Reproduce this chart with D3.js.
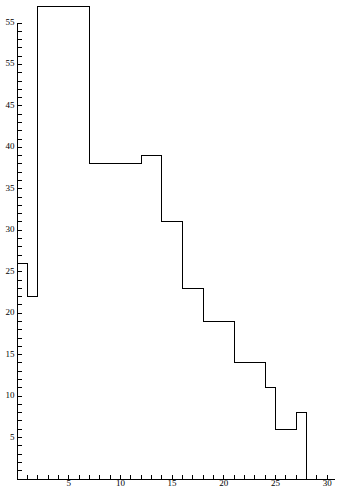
<!DOCTYPE html>
<html>
<head>
<meta charset="utf-8">
<script src="https://cdn.jsdelivr.net/npm/d3@7"></script>
<style>
  html, body { margin: 0; padding: 0; background: #fff; }
  svg { display: block; }
  .tick text { font-family: "Liberation Serif", "DejaVu Serif", serif; font-size: 9px; fill: #000; }
</style>
</head>
<body>
<svg id="chart" width="337" height="491"></svg>
<script>
// Data
const binEdges = [0, 1, 2, 7, 12, 14, 16, 18, 21, 24, 25, 27, 28];
const counts   = [26, 22, 57, 38, 39, 31, 23, 19, 14, 11, 6, 8];
const xTickValues = [5, 10, 15, 20, 25, 30];
const xTickLabels = ["5", "10", "15", "20", "25", "30"];
const yTickValues = [5, 10, 15, 20, 25, 30, 35, 40, 45, 50, 55];
const yTickLabels = ["5", "10", "15", "20", "25", "30", "35", "40", "45", "55", "55"];

const svg = d3.select("#chart");
const x = d3.scaleLinear().domain([0, 30.8]).range([16.5, 334.9]);
const y = d3.scaleLinear().domain([0, 55]).range([478.5, 22.5]);

// Minor ticks
const xMinor = d3.range(1, 31);
const yMinor = d3.range(1, 56);

const gx = svg.append("g").attr("transform", `translate(0,${y(0)})`);
gx.call(d3.axisBottom(x).tickValues(xMinor).tickSizeInner(-4).tickSizeOuter(0).tickFormat(""));
const gxl = svg.append("g").attr("transform", `translate(0,${y(0)})`);
gxl.call(d3.axisBottom(x).tickValues(xTickValues).tickSizeInner(-4).tickSizeOuter(0).tickPadding(1)
  .tickFormat((d, i) => xTickLabels[i]));
gxl.select(".domain").remove();

const gy = svg.append("g").attr("transform", `translate(${x(0)},0)`);
gy.call(d3.axisLeft(y).tickValues(yMinor).tickSizeInner(-5).tickSizeOuter(0).tickFormat(""));
const gyl = svg.append("g").attr("transform", `translate(${x(0)},0)`);
gyl.call(d3.axisLeft(y).tickValues(yTickValues).tickSizeInner(-5).tickSizeOuter(0).tickPadding(2)
  .tickFormat((d, i) => yTickLabels[i]));
gyl.select(".domain").remove();
gyl.selectAll(".tick text").attr("dy", "0.22em");

svg.selectAll(".domain, .tick line").attr("stroke", "#000").attr("stroke-width", 1).attr("shape-rendering", "crispEdges");

// Step histogram outline
const pts = [[binEdges[0], 0]];
counts.forEach((c, i) => {
  pts.push([binEdges[i], c]);
  pts.push([binEdges[i + 1], c]);
});
pts.push([binEdges[binEdges.length - 1], 0]);

const line = d3.line().x(d => Math.round(x(d[0])) + 0.5).y(d => Math.round(y(d[1])) + 0.5);
svg.append("path")
  .attr("d", line(pts))
  .attr("fill", "none")
  .attr("stroke", "#000")
  .attr("stroke-width", 1)
  .attr("shape-rendering", "crispEdges");
</script>
</body>
</html>
